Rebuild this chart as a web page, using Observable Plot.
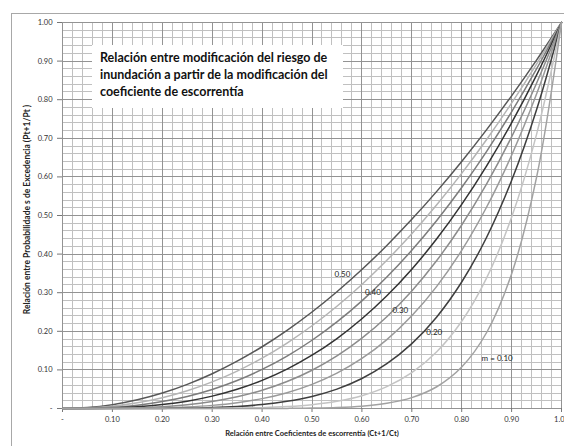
<!DOCTYPE html>
<html>
<head>
<meta charset="utf-8">
<script src="https://cdn.jsdelivr.net/npm/d3@7"></script>
<script src="https://cdn.jsdelivr.net/npm/@observablehq/plot@0.6"></script>
<style>
  html, body { margin: 0; padding: 0; background: #fff; }
  #wrap { position: relative; width: 564px; height: 446px; overflow: hidden; background: #fff; }
  #frame { position: absolute; left: 11px; top: 13px; width: 700px; height: 600px; border: 1px solid #a8a8a8; box-sizing: border-box; }
  #chart { position: absolute; left: 0; top: 0; }
  #title { position: absolute; left: 92px; top: 45px; width: 251px; height: 63px; background: #fff;
           box-sizing: border-box; padding: 4px 0 0 8px; font: bold 12.5px Lato, sans-serif; line-height: 17px; color: #111; white-space: nowrap; }
</style>
</head>
<body>
<div id="wrap">
  <div id="frame"></div>
  <div id="chart"></div>
  <div id="title">Relación entre modificación del riesgo de<br>inundación a partir de la modificación del<br>coeficiente de escorrentía</div>
</div>
<script>
// X values: relación entre coeficientes de escorrentía (Ct+1/Ct)
const xs = [0,0.05,0.1,0.15,0.2,0.25,0.3,0.35,0.4,0.45,0.5,0.55,0.6,0.65,0.7,0.75,0.8,0.85,0.9,0.95,1];

// Series: relación entre probabilidades de excedencia (Pt+1/Pt) for each m
const mValues = [0.50, 0.45, 0.40, 0.35, 0.30, 0.25, 0.20, 0.15, 0.10];
const y050 = [0,0.0025,0.01,0.0225,0.04,0.0625,0.09,0.1225,0.16,0.2025,0.25,0.3025,0.36,0.4225,0.49,0.5625,0.64,0.7225,0.81,0.9025,1];
const y045 = [0,0.0013,0.006,0.0148,0.028,0.0459,0.0689,0.097,0.1305,0.1696,0.2144,0.2649,0.3214,0.3839,0.4526,0.5277,0.6091,0.6969,0.7912,0.8923,1];
const y040 = [0,0.0006,0.0032,0.0087,0.0179,0.0313,0.0493,0.0725,0.1012,0.1358,0.1768,0.2243,0.2789,0.3406,0.41,0.4871,0.5724,0.6661,0.7684,0.8796,1];
const y035 = [0,0.0002,0.0014,0.0044,0.0101,0.019,0.0321,0.0498,0.073,0.1021,0.138,0.1812,0.2324,0.292,0.3609,0.4396,0.5287,0.6286,0.74,0.8636,1];
const y030 = [0,0,0.0005,0.0018,0.0047,0.0098,0.0181,0.0302,0.0472,0.0698,0.0992,0.1363,0.1822,0.2379,0.3045,0.3833,0.4754,0.5818,0.7038,0.8428,1];
const y025 = [0,0,0.0001,0.0005,0.0016,0.0039,0.0081,0.015,0.0256,0.041,0.0625,0.0915,0.1296,0.1785,0.2401,0.3164,0.4096,0.522,0.6561,0.8145,1];
const y020 = [0,0,0,0.0001,0.0003,0.001,0.0024,0.0053,0.0102,0.0185,0.0313,0.0503,0.0778,0.116,0.1681,0.2373,0.3277,0.4437,0.5905,0.7738,1];
const y015 = [0,0,0,0,0,0.0001,0.0003,0.0009,0.0022,0.0049,0.0098,0.0186,0.0332,0.0566,0.0927,0.1469,0.226,0.3385,0.4953,0.7103,1];
const y010 = [0,0,0,0,0,0,0,0,0.0001,0.0003,0.001,0.0025,0.006,0.0135,0.0282,0.0563,0.1074,0.1969,0.3487,0.5987,1];
const seriesY = [y050, y045, y040, y035, y030, y025, y020, y015, y010];
const curveColors = ["#575757", "#b4b4b4", "#7c7c7c", "#333333", "#8c8c8c", "#9a9a9a", "#3e3e3e", "#c4c4c4", "#a2a2a2"];

// Ticks
const majorTicks = [0,0.1,0.2,0.3,0.4,0.5,0.6,0.7,0.8,0.9,1];
const tickLabels = ["-","0.10","0.20","0.30","0.40","0.50","0.60","0.70","0.80","0.90","1.00"];
const minorTicks = [0.02,0.04,0.06,0.08,0.12,0.14,0.16,0.18,0.22,0.24,0.26,0.28,0.32,0.34,0.36,0.38,0.42,0.44,0.46,0.48,0.52,0.54,0.56,0.58,0.62,0.64,0.66,0.68,0.72,0.74,0.76,0.78,0.82,0.84,0.86,0.88,0.92,0.94,0.96,0.98];

// Curve labels (annotation anchors in data units)
const curveLabels = ["0.50","0.40","0.30","0.20","m = 0.10"];
const curveLabelX = [0.561, 0.622, 0.677, 0.745, 0.871];
const curveLabelY = [0.347, 0.300, 0.254, 0.197, 0.130];

const xTitle = "Relación entre Coeficientes de escorrentía (Ct+1/Ct)";
const yTitle = "Relación entre Probabilidade s de Excedencia (Pt+1/Pt )";

const data = [];
mValues.forEach((m, i) => xs.forEach((x, j) => data.push({m, x, y: seriesY[i][j]})));
const labels = curveLabels.map((t, i) => ({t, x: curveLabelX[i], y: curveLabelY[i]}));
const fmt = d => tickLabels[majorTicks.indexOf(d)] ?? "";

const chart = Plot.plot({
  width: 564,
  height: 446,
  marginLeft: 62,
  marginRight: 3,
  marginTop: 22,
  marginBottom: 38,
  style: {background: "transparent", fontFamily: "Lato, sans-serif", fontSize: "7.5px", color: "#333"},
  x: {domain: [0, 1], axis: null},
  y: {domain: [0, 1], axis: null},
  color: {type: "ordinal", domain: mValues, range: curveColors},
  marks: [
    Plot.ruleX(minorTicks, {stroke: "#c0c0c0", strokeWidth: 1, shapeRendering: "crispEdges"}),
    Plot.ruleY(minorTicks, {stroke: "#c0c0c0", strokeWidth: 1, shapeRendering: "crispEdges"}),
    Plot.ruleX(majorTicks, {stroke: "#939393", strokeWidth: 1, shapeRendering: "crispEdges"}),
    Plot.ruleY(majorTicks, {stroke: "#939393", strokeWidth: 1, shapeRendering: "crispEdges"}),
    Plot.axisX(majorTicks, {tickSize: 4, tickPadding: 4, tickFormat: fmt, label: null, stroke: "#777", fill: "#333"}),
    Plot.axisY(majorTicks, {tickSize: 5, tickPadding: 5, tickFormat: fmt, label: null, stroke: "#777", fill: "#333"}),
    Plot.line(data, {x: "x", y: "y", z: "m", stroke: "m", strokeWidth: 1.5, curve: "catmull-rom"}),
    Plot.text(labels, {x: "x", y: "y", text: "t", fontSize: 8, fill: "#222"}),
    Plot.text([xTitle], {frameAnchor: "bottom", dy: 27, fontWeight: "bold", fontSize: 7.5, fill: "#222"}),
    Plot.text([yTitle], {frameAnchor: "left", textAnchor: "middle", dx: -35, dy: -6, rotate: -90, fontWeight: "bold", fontSize: 8.5, fill: "#222"})
  ]
});
document.getElementById("chart").appendChild(chart);
</script>
</body>
</html>
